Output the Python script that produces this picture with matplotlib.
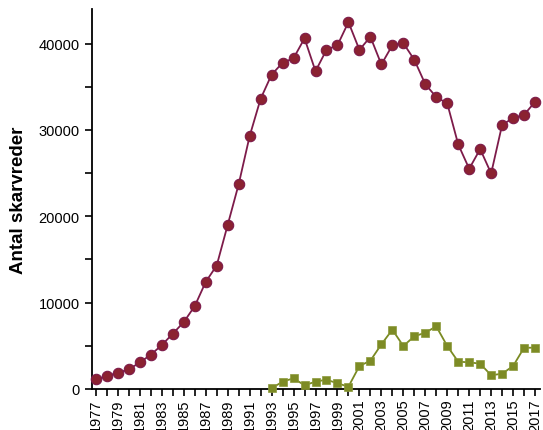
import matplotlib
matplotlib.use("Agg")
import matplotlib.pyplot as plt
from matplotlib.ticker import MultipleLocator

plt.rcParams['font.family'] = ['Liberation Sans', 'DejaVu Sans']

years = list(range(1977, 2018))
total = [1120, 1500, 1890, 2270, 3080, 3970, 5090, 6400, 7750, 9600,
         12400, 14300, 19000, 23700, 29280, 33600, 36400, 37770, 38300, 40600,
         36800, 39270, 39800, 42480, 39270, 40780, 37580, 39800, 40050, 38120,
         35300, 33800, 33070, 28320, 25500, 27780, 24960, 30590, 31370, 31750,
         33250]

years2 = list(range(1993, 2018))
second = [80, 850, 1240, 430, 850, 1080, 660, 270, 2660, 3280,
          5170, 6870, 4980, 6100, 6520, 7250, 4980, 3160, 3090, 2930,
          1590, 1770, 2660, 4780, 4780]

fig = plt.figure(figsize=(5.43, 4.31), dpi=100)
ax = fig.add_axes([92/543, 41/431, 448/543, 380/431])

ax.plot(years, total, color='#7d1b4a', lw=1.3, marker='o', ms=7.5,
        mfc='#8b2231', mec='#7d1b4a', mew=0.8, clip_on=False, zorder=3)
ax.plot(years2, second, color='#7a8a22', lw=1.3, marker='s', ms=5.5,
        mfc='#7d8b25', mec='#8c9a3a', mew=0.5, clip_on=False, zorder=3)

ax.set_xlim(1976.64, 2017.45)
ax.set_ylim(0, 44000)
ax.set_xticks(years)
ax.set_xticklabels([str(y) if y % 2 == 1 else '' for y in years],
                   rotation=90, fontsize=10.5)
ax.yaxis.set_major_locator(MultipleLocator(10000))
ax.yaxis.set_minor_locator(MultipleLocator(5000))
ax.tick_params(axis='y', labelsize=10.5, length=5, width=1.2, pad=4)
ax.tick_params(axis='y', which='minor', length=5, width=1.2)
ax.tick_params(axis='x', length=5, width=1.2, pad=2)
ax.set_ylabel('Antal skarvreder', fontsize=13.5, fontweight='bold', labelpad=8)

for s in ['top', 'right']:
    ax.spines[s].set_visible(False)
for s in ['left', 'bottom']:
    ax.spines[s].set_linewidth(1.3)

fig.savefig('out.png', dpi=100)
